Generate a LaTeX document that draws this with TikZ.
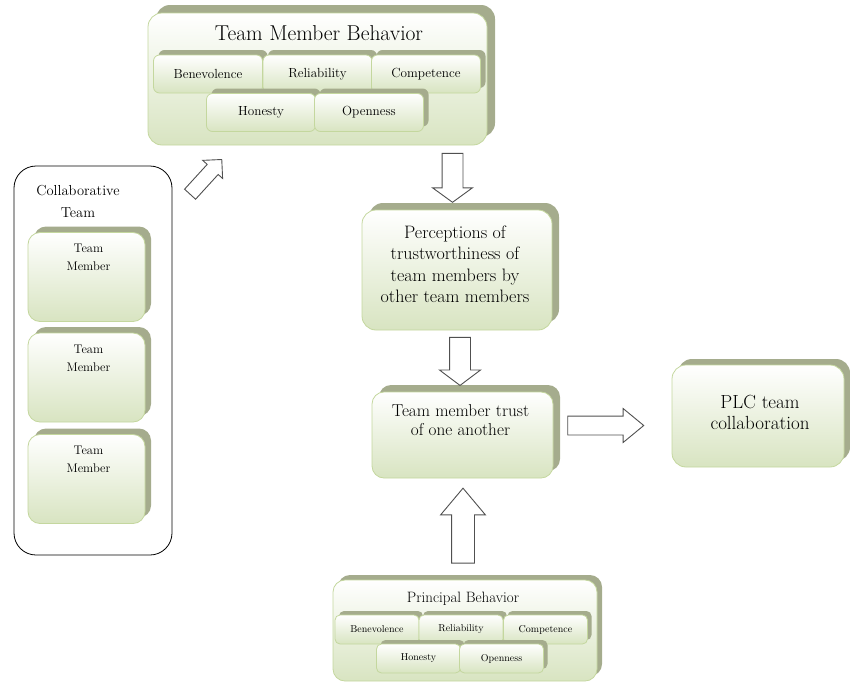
\documentclass[tikz,border=0pt]{standalone}
\usetikzlibrary{calc,shadows,shapes.arrows}
\definecolor{boxgreen}{HTML}{D8E4C1}
\definecolor{boxline}{HTML}{C4D79E}
\definecolor{shadowgreen}{HTML}{A5AC8D}
\definecolor{arrowline}{HTML}{505050}

\begin{document}
\begin{tikzpicture}[x=1pt, y=-1pt]
    \tikzset{
        greenbox/.style={rectangle, rounded corners=#1, draw=boxline, line width=0.8pt,
            top color=white, bottom color=boxgreen, inner sep=0pt, align=center},
        greenbox/.default=10pt,
        bigshadow/.style={general shadow={shadow xshift=#1, shadow yshift=#1, fill=shadowgreen}},
        bigshadow/.default=7pt,
        blockarrow/.style={single arrow, draw=arrowline, line width=0.9pt, fill=white,
            inner xsep=0pt, single arrow head indent=0pt},
        boxtext/.style 2 args={align=center, inner sep=0pt, font=\fontsize{#1}{#2}\selectfont},
    }
    \useasboundingbox (0,0) rectangle (850,683);

    % team member behavior
    \node[greenbox=14pt, bigshadow=8pt, minimum width=339pt, minimum height=132pt] (tmb) at (317.5,79) {};
    \node[boxtext={21.5}{24}] (tmbtitle) at (319,33) {Team Member Behavior};
    \foreach \name/\lbl/\x/\y in {ben/Benevolence/208/74, rel/Reliability/317.5/74, com/Competence/426/74,
                                  hon/Honesty/261/112.5, ope/Openness/369/112.5}
        \node[greenbox=6pt, bigshadow=5pt, minimum width=109pt, minimum height=38pt,
              font=\fontsize{13.2}{15}\selectfont] (tmb\name) at (\x,\y) {\lbl};

    % collaborative team
    \node[draw=black, line width=0.8pt, fill=white, rounded corners=22pt,
          minimum width=158pt, minimum height=389pt, inner sep=0pt] (collab) at (93,360.5) {};
    \node[boxtext={14.5}{22}] (collabtitle) at (78,201) {Collaborative\\Team};
    \foreach \i/\y in {1/277, 2/377.5, 3/479} {
        \node[greenbox=12pt, bigshadow=6pt, minimum width=117pt, minimum height=89pt] (tm\i) at (86.5,\y) {};
        \node[boxtext={12.5}{18}, anchor=north] (tmtext\i) at ($(tm\i.north)+(2,12)$) {Team\\Member};
    }

    % perceptions and trust
    \node[greenbox=14pt, bigshadow, minimum width=190pt, minimum height=120pt] (perc) at (457,270) {};
    \node[boxtext={18}{21.5}] (perctext) at ($(perc.center)+(-2,-6)$)
        {Perceptions of\\trustworthiness of\\team members by\\other team members};
    \node[greenbox=12pt, bigshadow, minimum width=181pt, minimum height=86pt] (trust) at (462.5,435) {};
    \node[boxtext={17.2}{19}] (trusttext) at ($(trust.center)+(-2,-15)$) {Team member trust\\of one another};

    % plc
    \node[greenbox=14pt, bigshadow=6pt, minimum width=172pt, minimum height=102pt] (plc) at (758,416) {};
    \node[boxtext={19}{21}] (plctext) at ($(plc.center)+(2,-4)$) {PLC team\\collaboration};

    % principal behavior
    \node[greenbox=12pt, bigshadow=5pt, minimum width=264pt, minimum height=101pt] (prin) at (465,630.5) {};
    \node[boxtext={15}{16}] (printitle) at (463,599) {Principal Behavior};
    \foreach \name/\lbl/\x/\y in {ben/Benevolence/377/629.5, rel/Reliability/461/629.5, com/Competence/545.5/629.5,
                                  hon/Honesty/418.5/658.5, ope/Openness/501.5/658.5}
        \node[greenbox=5pt, bigshadow=4pt, minimum width=84pt, minimum height=29pt,
              font=\fontsize{10}{12}\selectfont] (prin\name) at (\x,\y) {\lbl};

    % arrows
    \node[blockarrow, rotate=-90, minimum height=49pt, inner ysep=10pt,
          single arrow head extend=9.5pt, single arrow tip angle=108] (a1)
          at ($(perc.north |- tmb.south)!0.5!(perc.north)+(-4.5,-3.5)$) {};
    \node[blockarrow, rotate=-90, minimum height=48pt, inner ysep=10pt,
          single arrow head extend=10pt, single arrow tip angle=106] (a2)
          at ($(trust.north |- perc.south)!0.5!(trust.north)+(-2.5,-3.5)$) {};
    \node[blockarrow, rotate=90, minimum height=75pt, inner ysep=11pt,
          single arrow head extend=11pt, single arrow tip angle=80] (a3)
          at ($(trust.south)!0.5!(trust.south |- prin.north)+(0.5,3.5)$) {};
    \node[blockarrow, minimum height=76pt, inner ysep=9pt,
          single arrow head extend=7.5pt, single arrow tip angle=79] (a4)
          at ($(trust.east)!0.5!(plc.west)+(-12.5,0)$) {};
    \node[blockarrow, rotate=47.6, minimum height=47pt, inner ysep=7pt,
          single arrow head extend=6pt, single arrow tip angle=90] (a5)
          at ($(collab.north east)+(31,14)$) {};
\end{tikzpicture}
\end{document}
